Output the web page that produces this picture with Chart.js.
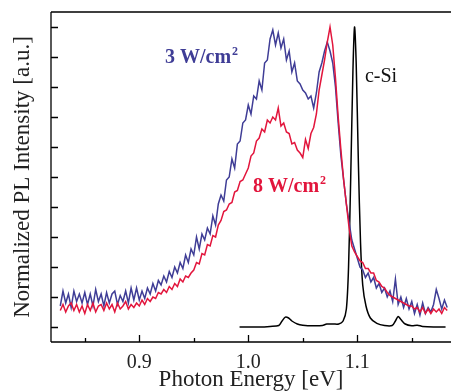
<!DOCTYPE html>
<html>
<head>
<meta charset="utf-8">
<script src="https://cdn.jsdelivr.net/npm/chart.js@4.4.1/dist/chart.umd.min.js"></script>
<style>
  html, body { margin: 0; padding: 0; background: #fff; }
  #wrap { width: 451px; height: 391px; position: relative; }
</style>
</head>
<body>
<div id="wrap"><canvas id="plChart" width="451" height="391"></canvas></div>
<script>
// photon energy grid shared by both PL spectra (eV)
const energy = [
  0.8275,0.83,0.8325,0.835,0.8375,0.84,0.8425,0.845,
  0.8475,0.85,0.8525,0.855,0.8575,0.86,0.8625,0.865,0.8675,0.87,
  0.8725,0.875,0.8775,0.88,0.8825,0.885,0.8875,0.89,0.8925,0.895,
  0.8975,0.9,0.9025,0.905,0.9075,0.91,0.9125,0.915,0.9175,0.92,
  0.9225,0.925,0.9275,0.93,0.9325,0.935,0.9375,0.94,0.9425,0.945,
  0.9475,0.95,0.9525,0.955,0.9575,0.96,0.9625,0.965,0.9675,0.97,
  0.9725,0.975,0.9775,0.98,0.9825,0.985,0.9875,0.99,0.9925,0.995,
  0.9975,1.0,1.0025,1.005,1.0075,1.01,1.0125,1.015,1.0175,1.02,
  1.0225,1.025,1.0275,1.03,1.0325,1.035,1.0375,1.04,1.0425,1.045,
  1.0475,1.05,1.0525,1.055,1.0575,1.06,1.0625,1.065,1.0675,1.07,
  1.0725,1.075,1.0775,1.08,1.0825,1.085,1.0875,1.09,1.0925,1.095,
  1.0975,1.1,1.1025,1.105,1.1075,1.11,1.1125,1.115,1.1175,1.12,
  1.1225,1.125,1.1275,1.13,1.1325,1.135,1.1375,1.14,1.1425,1.145,
  1.1475,1.15,1.1525,1.155,1.1575,1.16,1.1625,1.165,1.1675,1.17,
  1.1725,1.175,1.1775,1.18,1.1825
];

// 3 W/cm2 spectrum (normalized)
const pl3W = [
  0.07,0.12,0.08,0.11,0.065,0.12,0.085,0.11,
  0.08,0.115,0.075,0.11,0.07,0.125,0.085,0.11,0.07,0.115,
  0.08,0.11,0.12,0.075,0.105,0.085,0.12,0.08,0.13,0.09,
  0.13,0.09,0.12,0.095,0.13,0.11,0.145,0.12,0.155,0.14,
  0.17,0.15,0.185,0.165,0.2,0.18,0.215,0.195,0.24,0.215,
  0.26,0.24,0.30,0.26,0.31,0.29,0.33,0.31,0.37,0.34,
  0.41,0.44,0.42,0.49,0.50,0.56,0.53,0.61,0.62,0.68,
  0.69,0.74,0.71,0.77,0.76,0.82,0.79,0.88,0.89,0.96,
  0.99,0.94,0.98,0.93,0.96,0.89,0.92,0.85,0.88,0.82,
  0.81,0.79,0.78,0.76,0.77,0.73,0.78,0.85,0.88,0.92,
  0.95,0.92,0.88,0.80,0.68,0.57,0.49,0.41,0.35,0.29,
  0.26,0.23,0.20,0.19,0.165,0.18,0.15,0.165,0.13,0.145,
  0.115,0.13,0.10,0.12,0.085,0.16,0.075,0.10,0.065,0.095,
  0.06,0.085,0.045,0.075,0.04,0.08,0.045,0.065,0.05,0.075,
  0.125,0.095,0.06,0.09,0.065
];

// 8 W/cm2 spectrum (normalized)
const pl8W = [
  0.055,0.075,0.05,0.07,0.08,0.055,0.075,0.05,
  0.07,0.045,0.075,0.055,0.08,0.05,0.07,0.075,0.055,0.08,
  0.06,0.075,0.05,0.08,0.06,0.07,0.085,0.06,0.075,0.065,
  0.08,0.07,0.09,0.075,0.095,0.085,0.10,0.095,0.115,0.11,
  0.125,0.115,0.135,0.125,0.145,0.135,0.16,0.15,0.17,0.165,
  0.18,0.19,0.215,0.21,0.245,0.24,0.275,0.27,0.305,0.30,
  0.34,0.355,0.385,0.39,0.41,0.415,0.45,0.455,0.485,0.49,
  0.51,0.53,0.57,0.58,0.62,0.63,0.66,0.65,0.69,0.68,
  0.70,0.69,0.73,0.67,0.68,0.65,0.645,0.61,0.615,0.59,
  0.58,0.565,0.625,0.595,0.645,0.665,0.71,0.79,0.84,0.89,
  0.95,1.0,0.94,0.83,0.70,0.59,0.49,0.41,0.33,0.27,
  0.25,0.235,0.22,0.215,0.195,0.195,0.18,0.18,0.155,0.15,
  0.135,0.13,0.115,0.105,0.10,0.095,0.09,0.085,0.08,0.075,
  0.07,0.07,0.06,0.065,0.05,0.065,0.045,0.06,0.045,0.06,
  0.05,0.06,0.045,0.065,0.055
];

// crystalline silicon reference spectrum
const siEnergy = [
  0.992,1.0,1.01,1.02,1.028,1.031,1.034,1.037,1.04,1.045,1.05,1.06,1.068,1.072,
  1.078,1.083,1.087,1.09,1.092,1.094,1.096,1.0975,1.099,1.101,1.103,1.105,1.108,
  1.112,1.118,1.125,1.132,1.135,1.1375,1.14,1.144,1.15,1.155,1.16,1.17,1.181
];
const siPL = [
  0.0,0.0,0.0,0.002,0.005,0.02,0.033,0.03,0.02,0.01,0.006,0.004,0.005,0.01,
  0.01,0.01,0.02,0.06,0.2,0.5,0.85,1.0,0.88,0.55,0.28,0.14,0.07,
  0.03,0.012,0.005,0.005,0.02,0.035,0.025,0.01,0.004,0.006,0.002,0.0,0.0
];

const xTickValues = [0.85, 0.9, 0.95, 1.0, 1.05, 1.1, 1.15];
const xTickLabels = { '0.9': '0.9', '1': '1.0', '1.1': '1.1' };
const yTickValues = [0, 0.1, 0.2, 0.3, 0.4, 0.5, 0.6, 0.7, 0.8, 0.9, 1.0];

const BLUE = '#3f3d96';
const RED = '#e2153c';
const SERIF = '"Liberation Serif", "DejaVu Serif", serif';

const toPts = (xs, ys) => xs.map((x, i) => ({ x, y: ys[i] }));

// frame + inward ticks + annotations
const framePlugin = {
  id: 'frame',
  afterDraw(chart) {
    const { ctx, chartArea: a, scales: { x, y } } = chart;
    ctx.save();
    ctx.strokeStyle = '#000';
    ctx.lineWidth = 1.3;
    ctx.beginPath();
    ctx.moveTo(a.left, a.top); ctx.lineTo(a.right, a.top);
    ctx.moveTo(a.left, a.top); ctx.lineTo(a.left, a.bottom);
    ctx.moveTo(a.left, a.bottom); ctx.lineTo(a.right, a.bottom);
    yTickValues.forEach(v => {
      const py = Math.round(y.getPixelForValue(v)) + 0.5;
      ctx.moveTo(a.left, py); ctx.lineTo(a.left + 7, py);
    });
    xTickValues.forEach(v => {
      const px = Math.round(x.getPixelForValue(v)) + 0.5;
      const major = Math.abs(v * 10 - Math.round(v * 10)) < 1e-6;
      ctx.moveTo(px, a.bottom); ctx.lineTo(px, a.bottom - (major ? 7 : 4));
    });
    ctx.stroke();

    // curve labels
    const label = (txt, ev, iv, color, bold, sup) => {
      const px = x.getPixelForValue(ev), py = y.getPixelForValue(iv);
      ctx.fillStyle = color;
      ctx.textBaseline = 'alphabetic';
      ctx.font = (bold ? 'bold ' : '') + '20px ' + SERIF;
      ctx.fillText(txt, px, py);
      if (sup) {
        const w = ctx.measureText(txt).width;
        ctx.font = (bold ? 'bold ' : '') + '12px ' + SERIF;
        ctx.fillText(sup, px + w + 1, py - 8);
      }
    };
    label('3 W/cm', 0.9236, 0.88, BLUE, true, '2');
    label('8 W/cm', 1.0043, 0.45, RED, true, '2');
    label('c-Si', 1.107, 0.817, '#111', false, null);
    ctx.restore();
  }
};

new Chart(document.getElementById('plChart'), {
  type: 'line',
  data: {
    datasets: [
      { label: '8 W/cm2', data: toPts(energy, pl8W), borderColor: RED, borderWidth: 1.5, pointRadius: 0, tension: 0 },
      { label: '3 W/cm2', data: toPts(energy, pl3W), borderColor: BLUE, borderWidth: 1.5, pointRadius: 0, tension: 0 },
      { label: 'c-Si', data: toPts(siEnergy, siPL), borderColor: '#000', borderWidth: 1.5, pointRadius: 0, tension: 0.3 }
    ]
  },
  options: {
    responsive: false,
    animation: false,
    layout: { padding: { top: 12, right: 0, left: 9, bottom: 0 } },
    plugins: { legend: { display: false }, tooltip: { enabled: false } },
    scales: {
      x: {
        type: 'linear',
        min: 0.819, max: 1.186,
        afterBuildTicks: s => { s.ticks = xTickValues.map(v => ({ value: v })); },
        afterFit: s => { s.height = 49; },
        grid: { display: false, drawTicks: false },
        border: { display: false },
        ticks: {
          padding: 9,
          color: '#222',
          font: { family: SERIF, size: 20 },
          maxRotation: 0, autoSkip: false,
          callback: v => xTickLabels[String(+v.toFixed(2))] || ''
        },
        title: {
          display: true, text: 'Photon Energy [eV]', color: '#222',
          font: { family: SERIF, size: 23 }, padding: { top: 0, bottom: -3 }
        }
      },
      y: {
        type: 'linear',
        min: -0.05, max: 1.05,
        afterBuildTicks: s => { s.ticks = yTickValues.map(v => ({ value: v })); },
        afterFit: s => { s.width = 42; },
        grid: { display: false, drawTicks: false },
        border: { display: false },
        ticks: { display: false },
        title: {
          display: true, text: 'Normalized PL Intensity [a.u.]', color: '#222',
          font: { family: SERIF, size: 23 }, padding: { top: 0, bottom: 0 }
        }
      }
    }
  },
  plugins: [framePlugin]
});
</script>
</body>
</html>
